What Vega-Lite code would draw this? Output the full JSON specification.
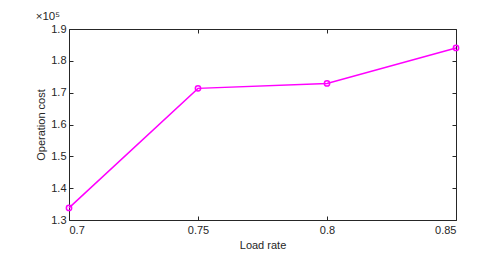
{
  "$schema": "https://vega.github.io/schema/vega-lite/v6.json",
  "autosize": "none",
  "width": 387,
  "height": 191,
  "padding": {"left": 69, "top": 29, "right": 41, "bottom": 53},
  "background": "white",
  "config": {
    "font": "Liberation Sans",
    "view": {"stroke": "#262626", "strokeWidth": 1}
  },
  "title": {"text": "×10⁵", "anchor": "start", "fontSize": 11.5, "font": "Liberation Sans", "fontWeight": "normal", "color": "#262626", "offset": 1, "dx": 0},
  "data": {"values": [
    {"load": 0.7, "cost": 133800},
    {"load": 0.75, "cost": 171350},
    {"load": 0.8, "cost": 172900},
    {"load": 0.85, "cost": 184050}
  ]},
  "encoding": {
    "x": {"field": "load", "type": "quantitative", "scale": {"domain": [0.7, 0.85], "nice": false, "zero": false}},
    "y": {"field": "cost", "type": "quantitative", "scale": {"domain": [130000, 190000], "nice": false, "zero": false}}
  },
  "layer": [
    {
      "mark": {"type": "line", "color": "#FF00FF", "strokeWidth": 1.5, "point": {"filled": false, "color": "#FF00FF", "size": 28, "strokeWidth": 1.5}},
      "encoding": {
        "x": {"field": "load", "type": "quantitative", "axis": {"orient": "bottom", "title": "Load rate", "values": [0.7, 0.75, 0.8, 0.85], "labelExpr": "datum.value == 0.7 ? '0.7' : datum.value == 0.8 ? '0.8' : datum.label", "tickSize": -4, "labelPadding": 8, "domain": false, "grid": false, "labelFontSize": 11, "titleFontSize": 11, "titleFontWeight": "normal", "labelColor": "#262626", "titleColor": "#262626", "tickColor": "#262626", "titlePadding": 4}},
        "y": {"field": "cost", "type": "quantitative", "axis": {"orient": "left", "title": "Operation cost", "values": [130000, 140000, 150000, 160000, 170000, 180000, 190000], "labelExpr": "format(datum.value / 100000, '.1f')", "tickSize": -4, "labelPadding": 7, "domain": false, "grid": false, "labelFontSize": 11, "titleFontSize": 11, "titleFontWeight": "normal", "labelColor": "#262626", "titleColor": "#262626", "tickColor": "#262626", "titlePadding": 4}}
      }
    },
    {
      "mark": {"type": "point", "opacity": 0},
      "encoding": {
        "x": {"field": "load", "type": "quantitative", "axis": {"orient": "top", "title": null, "values": [0.7, 0.75, 0.8, 0.85], "labels": false, "tickSize": -4, "domain": false, "grid": false, "tickColor": "#262626"}},
        "y": {"field": "cost", "type": "quantitative", "axis": {"orient": "right", "title": null, "values": [130000, 140000, 150000, 160000, 170000, 180000, 190000], "labels": false, "tickSize": -4, "domain": false, "grid": false, "tickColor": "#262626"}}
      }
    }
  ],
  "resolve": {"axis": {"x": "independent", "y": "independent"}}
}
